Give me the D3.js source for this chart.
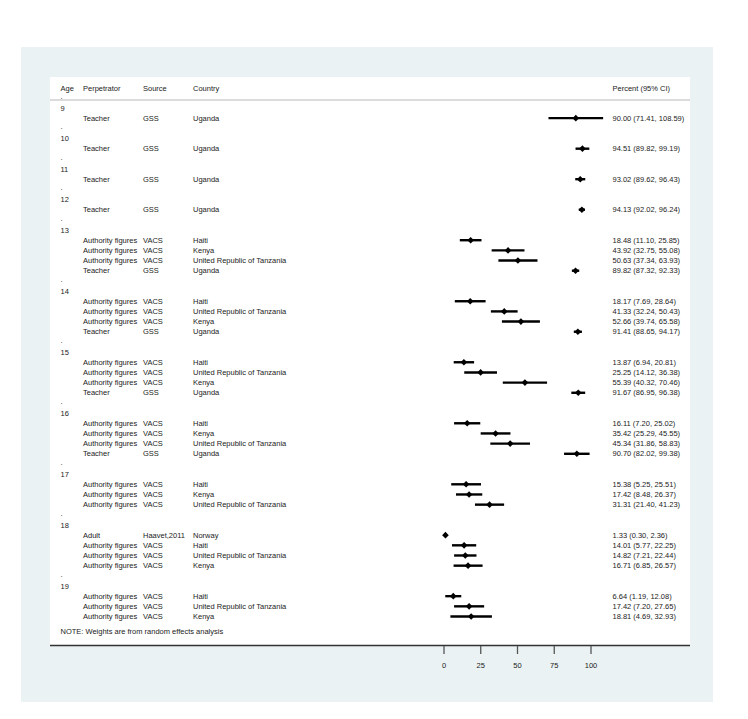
<!DOCTYPE html>
<html>
<head>
<meta charset="utf-8">
<script src="https://cdn.jsdelivr.net/npm/d3@7"></script>
<style>
	body { margin: 0; background: #fff; }
	svg text { font-family: "Liberation Sans", Arial, sans-serif; font-size: 7.5px; fill: #222; }
</style>
</head>
<body>
<div id="chart"></div>
<script>
const ageGroups = [9, 10, 11, 12, 13, 14, 15, 16, 17, 18, 19];
const groupSizes = [1, 1, 1, 1, 4, 4, 4, 4, 3, 4, 3];
const perpetrators = [
	'Teacher', 'Teacher', 'Teacher', 'Teacher',
	'Authority figures', 'Authority figures', 'Authority figures', 'Teacher',
	'Authority figures', 'Authority figures', 'Authority figures', 'Teacher',
	'Authority figures', 'Authority figures', 'Authority figures', 'Teacher',
	'Authority figures', 'Authority figures', 'Authority figures', 'Teacher',
	'Authority figures', 'Authority figures', 'Authority figures',
	'Adult', 'Authority figures', 'Authority figures', 'Authority figures',
	'Authority figures', 'Authority figures', 'Authority figures'
];
const sources = [
	'GSS', 'GSS', 'GSS', 'GSS',
	'VACS', 'VACS', 'VACS', 'GSS',
	'VACS', 'VACS', 'VACS', 'GSS',
	'VACS', 'VACS', 'VACS', 'GSS',
	'VACS', 'VACS', 'VACS', 'GSS',
	'VACS', 'VACS', 'VACS',
	'Haavet,2011', 'VACS', 'VACS', 'VACS',
	'VACS', 'VACS', 'VACS'
];
const countries = [
	'Uganda', 'Uganda', 'Uganda', 'Uganda',
	'Haiti', 'Kenya', 'United Republic of Tanzania', 'Uganda',
	'Haiti', 'United Republic of Tanzania', 'Kenya', 'Uganda',
	'Haiti', 'United Republic of Tanzania', 'Kenya', 'Uganda',
	'Haiti', 'Kenya', 'United Republic of Tanzania', 'Uganda',
	'Haiti', 'Kenya', 'United Republic of Tanzania',
	'Norway', 'Haiti', 'United Republic of Tanzania', 'Kenya',
	'Haiti', 'United Republic of Tanzania', 'Kenya'
];
const estimates = [
	90.00, 94.51, 93.02, 94.13,
	18.48, 43.92, 50.63, 89.82,
	18.17, 41.33, 52.66, 91.41,
	13.87, 25.25, 55.39, 91.67,
	16.11, 35.42, 45.34, 90.70,
	15.38, 17.42, 31.31,
	1.33, 14.01, 14.82, 16.71,
	6.64, 17.42, 18.81
];
const lowerCI = [
	71.41, 89.82, 89.62, 92.02,
	11.10, 32.75, 37.34, 87.32,
	7.69, 32.24, 39.74, 88.65,
	6.94, 14.12, 40.32, 86.95,
	7.20, 25.29, 31.86, 82.02,
	5.25, 8.48, 21.40,
	0.30, 5.77, 7.21, 6.85,
	1.19, 7.20, 4.69
];
const upperCI = [
	108.59, 99.19, 96.43, 96.24,
	25.85, 55.08, 63.93, 92.33,
	28.64, 50.43, 65.58, 94.17,
	20.81, 36.38, 70.46, 96.38,
	25.02, 45.55, 58.83, 99.38,
	25.51, 26.37, 41.23,
	2.36, 22.25, 22.44, 26.57,
	12.08, 27.65, 32.93
];
const xTicks = [0, 25, 50, 75, 100];
const noteText = 'NOTE: Weights are from random effects analysis';

const width = 748, height = 719;
const svg = d3.select('#chart').append('svg')
	.attr('width', width)
	.attr('height', height);

// outer graph region and inner plot region
svg.append('rect').attr('x', 21).attr('y', 47).attr('width', 692).attr('height', 655).attr('fill', '#eaf2f3');
svg.append('rect').attr('x', 50).attr('y', 77).attr('width', 640).attr('height', 568).attr('fill', '#fff');

// build row layout: '.' row, age row, then study rows
var rows = [];
var k = 0, r = 0;
ageGroups.forEach((age, g) => {
	rows.push({ type: 'dot', row: r++ });
	rows.push({ type: 'age', row: r++, label: age });
	for (var i = 0; i < groupSizes[g]; i++) {
		rows.push({ type: 'study', row: r++, idx: k++ });
	}
});

var y = d3.scaleLinear().domain([1, 48]).range([108, 586]);
var x = d3.scaleLinear().domain([0, 100]).range([443.5, 590.5]);

var cols = { age: 60.5, perp: 83, source: 143, country: 193, ci: 612.5 };

// header
var header = svg.append('g');
[['Age', cols.age], ['Perpetrator', cols.perp], ['Source', cols.source], ['Country', cols.country], ['Percent (95% CI)', cols.ci]]
	.forEach(h => {
		header.append('text').attr('x', h[1]).attr('y', 88).attr('dy', '0.35em').text(h[0]);
	});

var body = svg.append('g');
rows.forEach(d => {
	var yy = y(d.row);
	if (d.type == 'dot') {
		body.append('text').attr('x', cols.age).attr('y', yy).attr('dy', '0.1em').text('.');
	}
	else if (d.type == 'age') {
		body.append('text').attr('x', cols.age).attr('y', yy).attr('dy', '0.35em').text(d.label);
	}
	else {
		var i = d.idx;
		body.append('text').attr('x', cols.perp).attr('y', yy).attr('dy', '0.35em').text(perpetrators[i]);
		body.append('text').attr('x', cols.source).attr('y', yy).attr('dy', '0.35em').text(sources[i]);
		body.append('text').attr('x', cols.country).attr('y', yy).attr('dy', '0.35em').text(countries[i]);
		body.append('text').attr('x', cols.ci).attr('y', yy).attr('dy', '0.35em')
			.text(d3.format('.2f')(estimates[i]) + ' (' + d3.format('.2f')(lowerCI[i]) + ', ' + d3.format('.2f')(upperCI[i]) + ')');
	}
});

// header rule drawn after the '.' rows so it covers the first one
svg.append('line').attr('x1', 50).attr('x2', 690).attr('y1', 100).attr('y2', 100)
	.attr('stroke', '#b8b8b8').attr('stroke-width', 1);

var studies = rows.filter(d => d.type == 'study');
var marks = svg.append('g');
marks.selectAll('line.ci')
	.data(studies)
	.enter()
	.append('line')
		.attr('class', 'ci')
		.attr('x1', d => x(lowerCI[d.idx]))
		.attr('x2', d => x(upperCI[d.idx]))
		.attr('y1', d => y(d.row))
		.attr('y2', d => y(d.row))
		.attr('stroke', '#000')
		.attr('stroke-width', 2.4);
marks.selectAll('path.est')
	.data(studies)
	.enter()
	.append('path')
		.attr('class', 'est')
		.attr('d', d3.symbol().type(d3.symbolDiamond2).size(28))
		.attr('transform', d => 'translate(' + x(estimates[d.idx]) + ',' + y(d.row) + ')')
		.attr('fill', '#000');

svg.append('text').attr('x', cols.age).attr('y', 631).attr('dy', '0.35em').text(noteText);

// bottom axis
svg.append('line').attr('x1', 50).attr('x2', 690).attr('y1', 645.5).attr('y2', 645.5)
	.attr('stroke', '#333').attr('stroke-width', 1.5);
var axis = svg.append('g')
	.attr('transform', 'translate(0,646)')
	.call(d3.axisBottom(x).tickValues(xTicks).tickSize(8).tickPadding(9).tickFormat(d3.format('d')));
axis.select('.domain').remove();
axis.selectAll('.tick line').attr('stroke', '#555').attr('stroke-width', 1.3);
axis.selectAll('.tick text').style('font-size', '7.5px').style('font-family', '"Liberation Sans", Arial, sans-serif').attr('fill', '#222');
</script>
</body>
</html>
